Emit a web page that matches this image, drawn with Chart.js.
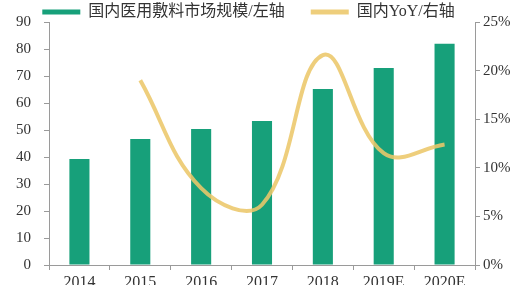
<!DOCTYPE html>
<html>
<head>
<meta charset="utf-8">
<script src="https://cdn.jsdelivr.net/npm/chart.js@4/dist/chart.umd.min.js"></script>
<style>
  html, body { margin: 0; padding: 0; background: #fff; overflow: hidden; }
  #wrap { width: 513px; height: 292px; }
</style>
</head>
<body>
<div id="wrap"><canvas id="chart" width="513" height="292"></canvas></div>
<script>
// Values
const years = ['2014', '2015', '2016', '2017', '2018', '2019E', '2020E']
const marketSize = [39.3, 46.7, 50.4, 53.3, 65.2, 73.0, 81.9]
const yoyPct = [null, 19.0, 7.9, 6.2, 21.6, 11.5, 12.4]
const leftTicks = [0, 10, 20, 30, 40, 50, 60, 70, 80, 90]
const rightTicks = [0, 5, 10, 15, 20, 25]

const COLORS = {
  bar: '#17a07a',
  line: 'rgba(236, 199, 106, 0.88)',
  axis: '#9a9a9a',
  text: '#333333'
}

const tickFont = { family: "'Liberation Serif', 'Times New Roman', serif", size: 15 }
const legendFont = { family: "'Liberation Serif', 'Noto Sans CJK SC', serif", size: 16, lineHeight: 0.8 }

const LEGEND_GAP = 26

// keeps the legend band thin (22px) while the gap between its items stays wide
const legendBand = {
  id: 'legendBand',
  beforeLayout (chart) {
    const legend = chart.legend
    if (!legend || legend._banded) return
    const fit = legend.fit.bind(legend)
    legend.fit = function () {
      fit()
      this.height = 22
    }
    legend._banded = true
  },
  afterLayout (chart) {
    const legend = chart.legend
    if (!legend) return
    // pull the row up so that its middle sits at y ~ 10, and a bit to the left
    legend.top = 10 - LEGEND_GAP - 6
    legend.left -= 8
    legend.right -= 8
  }
}

new Chart(document.getElementById('chart'), {
  data: {
    labels: years,
    datasets: [
      {
        type: 'bar',
        label: '国内医用敷料市场规模/左轴',
        data: marketSize,
        yAxisID: 'y',
        backgroundColor: COLORS.bar,
        barPercentage: 0.66,
        categoryPercentage: 0.5,
        order: 1
      },
      {
        type: 'line',
        label: '国内YoY/右轴',
        data: yoyPct,
        yAxisID: 'y1',
        borderColor: COLORS.line,
        backgroundColor: COLORS.line,
        borderWidth: 4,
        tension: 0.4,
        pointRadius: 0,
        order: 0
      }
    ]
  },
  plugins: [legendBand],
  options: {
    responsive: false,
    animation: false,
    layout: { padding: 0 },
    plugins: {
      tooltip: { enabled: false },
      legend: {
        position: 'top',
        labels: {
          font: legendFont,
          color: COLORS.text,
          boxWidth: 38,
          boxHeight: 5,
          padding: LEGEND_GAP,
          sort: (a, b) => a.datasetIndex - b.datasetIndex,
          generateLabels: (chart) => chart.data.datasets.map((ds, i) => ({
            text: ds.label,
            fillStyle: ds.type === 'bar' ? COLORS.bar : COLORS.line,
            strokeStyle: 'rgba(0,0,0,0)',
            lineWidth: 0,
            fontColor: COLORS.text,
            datasetIndex: i
          }))
        }
      }
    },
    scales: {
      x: {
        grid: { display: true, drawOnChartArea: false, offset: true, tickLength: 5, color: COLORS.axis },
        border: { color: COLORS.axis },
        ticks: { font: { ...tickFont, size: 16 }, color: COLORS.text, padding: 3, maxRotation: 0 },
        afterFit: (scale) => { scale.height = 27 }
      },
      y: {
        position: 'left',
        min: 0,
        max: 90,
        afterBuildTicks: (scale) => { scale.ticks = leftTicks.map(v => ({ value: v })) },
        grid: { drawOnChartArea: false, tickLength: 5, color: COLORS.axis },
        border: { color: COLORS.axis },
        ticks: { font: tickFont, color: COLORS.text, padding: 13 },
        afterFit: (scale) => { scale.width = 49 }
      },
      y1: {
        position: 'right',
        min: 0,
        max: 25,
        afterBuildTicks: (scale) => { scale.ticks = rightTicks.map(v => ({ value: v })) },
        grid: { drawOnChartArea: false, tickLength: 5, color: COLORS.axis },
        border: { color: COLORS.axis },
        ticks: { font: tickFont, color: COLORS.text, padding: 3, callback: (v) => v + '%' },
        afterFit: (scale) => { scale.width = 38 }
      }
    }
  }
})
</script>
</body>
</html>
